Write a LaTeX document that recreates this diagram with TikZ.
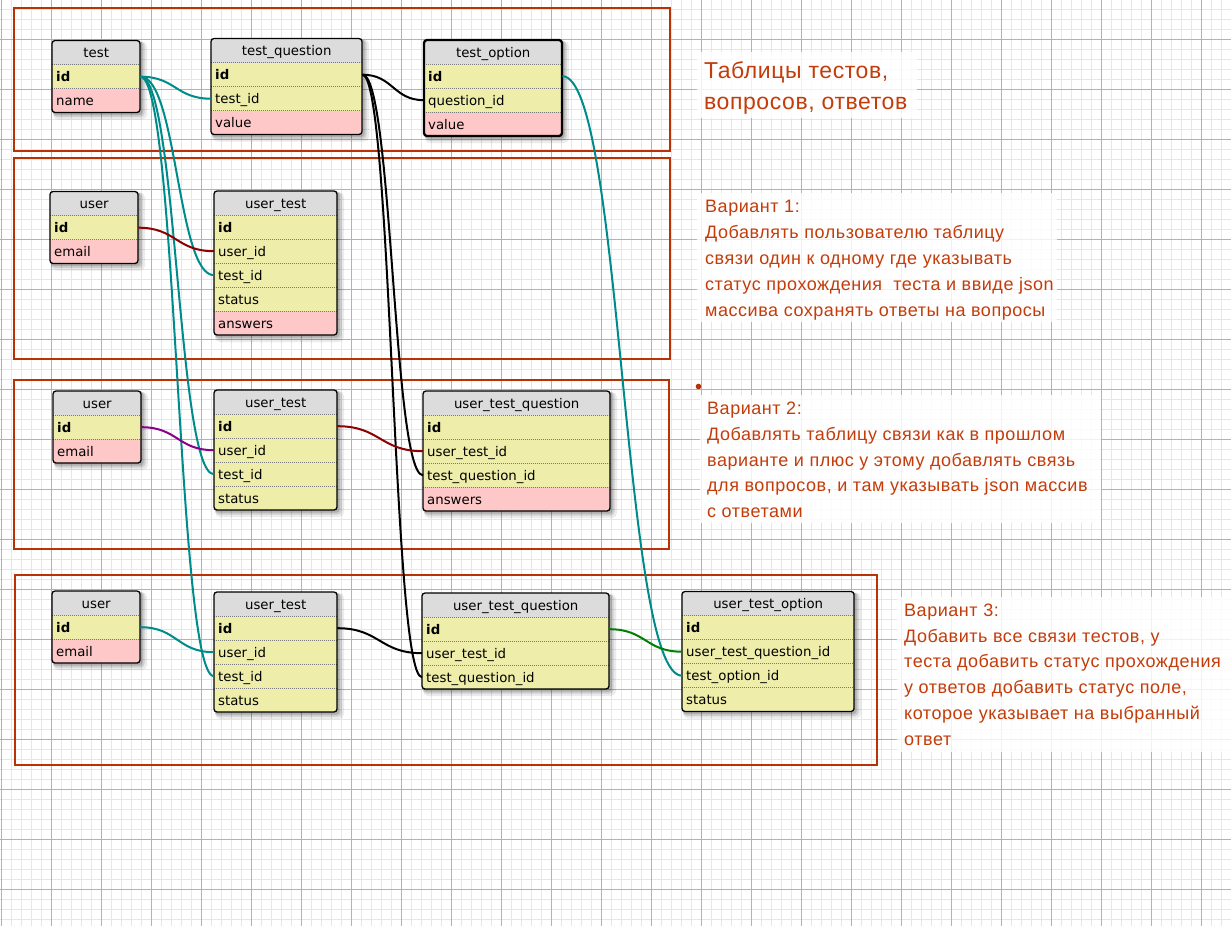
\documentclass[tikz,border=0pt]{standalone}
\usepackage{fontspec}
\newfontfamily\tabfont{DejaVu Sans}
\newfontfamily\notefont[LetterSpace=3]{Liberation Sans}
\newfontfamily\titlefont[LetterSpace=2.5]{Liberation Sans}
\usetikzlibrary{calc}
\definecolor{gridminor}{RGB}{230,230,230}
\definecolor{gridmajor}{RGB}{178,178,178}
\definecolor{hdrc}{RGB}{220,220,220}
\definecolor{keyc}{RGB}{238,238,170}
\definecolor{normc}{RGB}{255,200,200}
\definecolor{framec}{RGB}{185,50,5}
\definecolor{notec}{RGB}{195,60,10}
\definecolor{sepc}{RGB}{120,120,120}
\definecolor{lteal}{RGB}{0,139,139}
\definecolor{ldred}{RGB}{139,0,0}
\definecolor{lpurple}{RGB}{139,0,139}
\definecolor{lgreen}{RGB}{0,128,0}
\tikzset{
  cell/.style={anchor=north west, inner xsep=4pt, inner ysep=0pt, minimum height=24pt,
    text height=12pt, text depth=2.4pt, align=left,
    font=\tabfont\fontsize{13.3}{16}\selectfont, text=black},
  hdrcell/.style={cell, fill=hdrc, align=center},
  rowcell/.style={cell, fill=#1},
  sepline/.style={draw=sepc, line width=0.8pt, dash pattern=on 1pt off 1pt},
  tabborder/.style={draw=black, rounded corners=3pt},
  link/.style={line width=2pt},
  frame/.style={draw=framec, line width=2pt},
  notebg/.style={fill=white, fill opacity=0.82},
  note/.style={anchor=north west, inner sep=0pt, align=left, text=notec},
}
\newcommand\dbtable[8][1.3pt]{%
  \pgfmathsetmacro\tabtw{#5-8}%
  \pgfmathsetmacro\tabh{24*(#7+1)}%
  \fill[black, opacity=0.08, rounded corners=5pt] (#3+1,#4+1) rectangle ++(#5+6,\tabh+6);
  \fill[black, opacity=0.12, rounded corners=4pt] (#3+1,#4+1) rectangle ++(#5+3.5,\tabh+3.5);
  \fill[black, opacity=0.15, rounded corners=3pt] (#3+1,#4+1) rectangle ++(#5+1.5,\tabh+1.5);
  \begin{scope}
    \clip[rounded corners=3pt] (#3,#4) rectangle ++(#5,\tabh);
    \node[hdrcell, text width=\tabtw pt] (#2-h) at (#3,#4) {#6};
    \foreach \rn/\rt/\rf [count=\ri] in {#8} {
      \node[rowcell=\rf, text width=\tabtw pt] (#2-\rn) at (#3,{#4+24*\ri}) {\rt};
      \draw[sepline] (#2-\rn.north west) -- (#2-\rn.north east);
    }
  \end{scope}
  \draw[tabborder, line width=#1] (#3,#4) rectangle ++(#5,\tabh);
}
\newcommand\conn[3]{\draw[link,#1] let \p1=(#2.east), \p2=(#3.west) in
  (\p1) .. controls ({(\x1+\x2)/2},\y1) and ({(\x1+\x2)/2},\y2) .. (\p2);}
\begin{document}
\begin{tikzpicture}[x=1pt,y=-1pt]
\useasboundingbox (0,0) rectangle (1231,926);
\fill[white] (0,0) rectangle (1231,926);
% grid
\foreach \gx in {1.5,11.5,...,1231} \draw[gridminor, line width=1pt] (\gx,0) -- (\gx,926);
\foreach \gy in {9.5,19.5,...,926} \draw[gridminor, line width=1pt] (0,\gy) -- (1231,\gy);
\foreach \gx in {1.5,51.5,...,1231} \draw[gridmajor, line width=1pt] (\gx,0) -- (\gx,926);
\foreach \gy in {39.5,89.5,...,926} \draw[gridmajor, line width=1pt] (0,\gy) -- (1231,\gy);
% note backgrounds
\fill[notebg] (697,52) rectangle (917,118);
\fill[notebg] (697,193) rectangle (1057,322);
\fill[notebg] (700,395) rectangle (1101,523);
\fill[notebg] (897,597) rectangle (1231,752);
\fill[framec] (698.5,386.5) circle (2.8pt);
% frames
\draw[frame] (14,8) rectangle (670,150.5);
\draw[frame] (14,157.5) rectangle (670,358.5);
\draw[frame] (14,379.5) rectangle (669,549);
\draw[frame] (15,575) rectangle (877,764.5);
% tables
\dbtable{t}{52}{40.5}{88}{test}{2}{id/\textbf{id}/keyc,name/name/normc}
\dbtable{tq}{211}{38.5}{151}{test\_question}{3}{id/\textbf{id}/keyc,testid/test\_id/keyc,value/value/normc}
\dbtable[2.3pt]{to}{424}{40}{138}{test\_option}{3}{id/\textbf{id}/keyc,qid/question\_id/keyc,value/value/normc}
\dbtable{ua}{50}{191.5}{88}{user}{2}{id/\textbf{id}/keyc,email/email/normc}
\dbtable{uta}{214}{191}{123}{user\_test}{5}{id/\textbf{id}/keyc,uid/user\_id/keyc,tid/test\_id/keyc,status/status/keyc,answers/answers/normc}
\dbtable{ub}{53}{391}{88}{user}{2}{id/\textbf{id}/keyc,email/email/normc}
\dbtable{utb}{214}{390}{123}{user\_test}{4}{id/\textbf{id}/keyc,uid/user\_id/keyc,tid/test\_id/keyc,status/status/keyc}
\dbtable{utqb}{423}{391}{187}{user\_test\_question}{4}{id/\textbf{id}/keyc,utid/user\_test\_id/keyc,tqid/test\_question\_id/keyc,answers/answers/normc}
\dbtable{uc}{52}{591}{88}{user}{2}{id/\textbf{id}/keyc,email/email/normc}
\dbtable{utc}{214}{592}{123}{user\_test}{4}{id/\textbf{id}/keyc,uid/user\_id/keyc,tid/test\_id/keyc,status/status/keyc}
\dbtable{utqc}{422}{593}{187}{user\_test\_question}{3}{id/\textbf{id}/keyc,utid/user\_test\_id/keyc,tqid/test\_question\_id/keyc}
\dbtable{utoc}{682}{591.5}{172}{user\_test\_option}{4}{id/\textbf{id}/keyc,utqid/user\_test\_question\_id/keyc,toid/test\_option\_id/keyc,status/status/keyc}
% connectors
\conn{lteal}{t-id}{tq-testid}
\conn{lteal}{t-id}{uta-tid}
\conn{lteal}{t-id}{utb-tid}
\conn{lteal}{t-id}{utc-tid}
\conn{black}{tq-id}{to-qid}
\conn{black}{tq-id}{utqb-tqid}
\conn{black}{tq-id}{utqc-tqid}
\conn{lteal}{to-id}{utoc-toid}
\conn{ldred}{ua-id}{uta-uid}
\conn{lpurple}{ub-id}{utb-uid}
\conn{ldred}{utb-id}{utqb-utid}
\conn{lteal}{uc-id}{utc-uid}
\conn{black}{utc-id}{utqc-utid}
\conn{lgreen}{utqc-id}{utoc-utqid}
% notes
\node[note, font=\titlefont\fontsize{23}{31}\selectfont] (title) at (704,61) {Таблицы тестов,\\вопросов, ответов};
\node[note, font=\notefont\fontsize{18}{26}\selectfont] (v1) at (705,200) {Вариант 1:\\Добавлять пользователю таблицу\\связи один к одному где указывать\\статус прохождения\ \ теста и ввиде json\\массива сохранять ответы на вопросы};
\node[note, font=\notefont\fontsize{18}{25.7}\selectfont] (v2) at (707,402) {Вариант 2:\\Добавлять таблицу связи как в прошлом\\варианте и плюс у этому добавлять связь\\для вопросов, и там указывать json массив\\с ответами};
\node[note, font=\notefont\fontsize{18}{25.8}\selectfont] (v3) at (904,603.5) {Вариант 3:\\Добавить все связи тестов, у\\теста добавить статус прохождения\\у ответов добавить статус поле,\\которое указывает на выбранный\\ответ};
\end{tikzpicture}
\end{document}
